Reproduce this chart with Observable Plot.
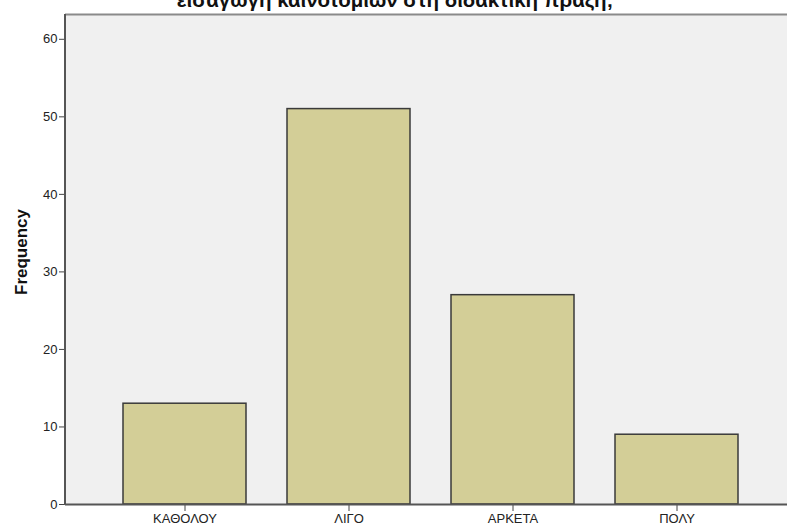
<!DOCTYPE html>
<html>
<head>
<meta charset="utf-8">
<script src="https://cdn.jsdelivr.net/npm/d3@7"></script>
<script src="https://cdn.jsdelivr.net/npm/@observablehq/plot@0.6"></script>
<style>
  html, body { margin: 0; padding: 0; background: #fff; }
  #chart svg { display: block; overflow: hidden; }
</style>
</head>
<body>
<div id="chart"></div>
<script>
const categories = ["ΚΑΘΟΛΟΥ", "ΛΙΓΟ", "ΑΡΚΕΤΑ", "ΠΟΛΥ"];
const frequencies = [13, 51, 27, 9];
const yTicks = [0, 10, 20, 30, 40, 50, 60];
const titleText = "εισαγωγή καινοτομιών στη διδακτική πράξη;";
const yLabel = "Frequency";

const data = categories.map((c, i) => ({category: c, value: frequencies[i]}));

const chart = Plot.plot({
  width: 787,
  height: 528,
  marginTop: 14,
  marginBottom: 24,
  marginLeft: 65,
  marginRight: 0,
  style: {fontFamily: "Arial, 'Liberation Sans', sans-serif", fontSize: "13px", background: "#fff", color: "#222"},
  x: {domain: categories, paddingInner: 0.25, paddingOuter: 0.125, insetLeft: 37.5, insetRight: 28.5, label: null},
  y: {domain: [0, 63.2], ticks: yTicks, label: null},
  marks: [
    Plot.frame({fill: "#F0F0F0", stroke: null}),
    Plot.ruleY([63.2], {stroke: "#8a8a8a", strokeWidth: 2}),
    Plot.barY(data, {x: "category", y: "value", fill: "#D3CE97", stroke: "#3a3a3a", strokeWidth: 1.5}),
    Plot.axisY({ticks: yTicks, tickSize: 6, tickPadding: 2, stroke: "#444", fill: "#222", label: null, fontSize: 13}),
    Plot.axisX({tickSize: 7, tickPadding: 2, stroke: "#444", fill: "#222", label: null, fontSize: 13}),
    Plot.ruleY([0], {stroke: "#555", strokeWidth: 2}),
    Plot.text([yLabel], {frameAnchor: "left", textAnchor: "middle", dx: -44, dy: -7.5, rotate: -90, fontWeight: "bold", fontSize: 17, fill: "#111"}),
    Plot.text([titleText], {frameAnchor: "top", lineAnchor: "bottom", dy: -8, dx: -31.5, fontWeight: "bold", fontSize: 20.5, fill: "#111", textAnchor: "middle"})
  ]
});
document.getElementById("chart").appendChild(chart);

// left axis line
d3.select(chart).append("line").attr("x1", 65).attr("x2", 65).attr("y1", 14).attr("y2", 505).attr("stroke", "#555").attr("stroke-width", 2);
</script>
</body>
</html>
